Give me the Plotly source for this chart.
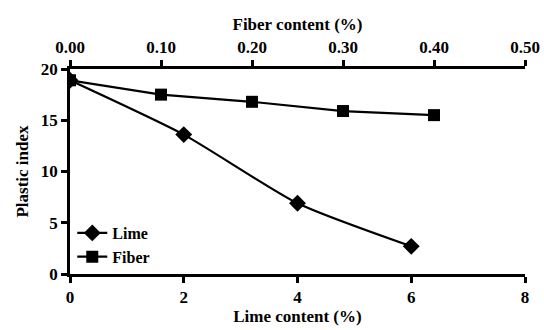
import plotly.graph_objects as go

lime_content = [0, 2, 4, 6]
lime_pi = [18.9, 13.6, 6.9, 2.7]
fiber_content = [0.0, 0.1, 0.2, 0.3, 0.4]
fiber_pi = [18.9, 17.5, 16.8, 15.9, 15.5]

FONT = "Times New Roman"

fig = go.Figure()
fig.add_trace(go.Scatter(
    x=lime_content, y=lime_pi, name="Lime", mode="lines+markers",
    line=dict(color="black", width=2.2, shape="spline", smoothing=0.6),
    marker=dict(symbol="diamond", size=13, color="black"),
    xaxis="x", yaxis="y"))
fig.add_trace(go.Scatter(
    x=fiber_content, y=fiber_pi, name="Fiber", mode="lines+markers",
    line=dict(color="black", width=2.2),
    marker=dict(symbol="square", size=12, color="black"),
    xaxis="x2", yaxis="y"))

axis_common = dict(showline=True, linecolor="black", linewidth=2.5, ticks="outside",
                   ticklen=6, tickwidth=2.5, tickcolor="black", showgrid=False, zeroline=False,
                   automargin=False,
                   tickfont=dict(family=FONT, size=17, color="black", weight="bold"))

title_font = dict(family=FONT, size=17, color="black", weight="bold")

fig.update_layout(
    width=544, height=330,
    margin=dict(l=70, r=19, t=69, b=56),
    paper_bgcolor="white", plot_bgcolor="white",
    font=dict(family=FONT, size=16, color="black"),
    showlegend=True,
    legend=dict(x=0.005, y=0.0, xanchor="left", yanchor="bottom",
                bgcolor="rgba(0,0,0,0)", font=dict(family=FONT, size=16, color="black", weight="bold"),
                tracegroupgap=0, itemwidth=30),
    xaxis=dict(range=[0, 8], tickvals=[0, 2, 4, 6, 8],
               title=dict(text="Lime content (%)", standoff=4, font=title_font),
               **axis_common),
    xaxis2=dict(range=[0, 0.5], tickvals=[0, 0.1, 0.2, 0.3, 0.4, 0.5], tickformat=".2f",
                overlaying="x", side="top", anchor="y",
                title=dict(text="Fiber content (%)", standoff=4, font=title_font),
                **axis_common),
    yaxis=dict(range=[0, 20], tickvals=[0, 5, 10, 15, 20],
               title=dict(text="Plastic index", standoff=8, font=title_font),
               **axis_common),
)

fig.write_html("out.html")
